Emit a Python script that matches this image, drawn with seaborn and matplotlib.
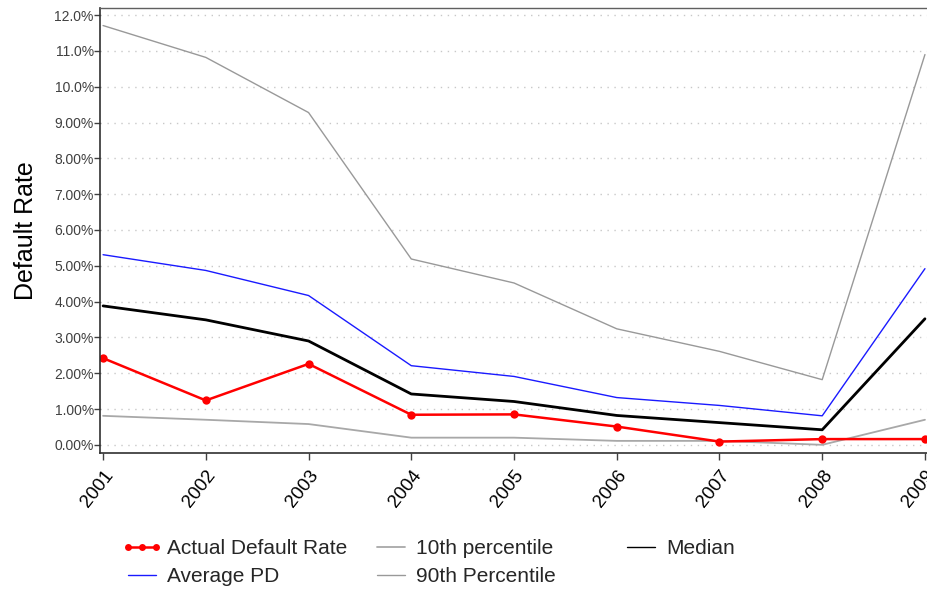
import pandas as pd
import matplotlib.pyplot as plt
import seaborn as sns
from matplotlib.lines import Line2D

years = [2001, 2002, 2003, 2004, 2005, 2006, 2007, 2008, 2009]
actual_default = [2.42, 1.24, 2.26, 0.84, 0.85, 0.51, 0.09, 0.16, 0.16]
average_pd = [5.31, 4.87, 4.17, 2.21, 1.91, 1.32, 1.10, 0.81, 4.92]
median_pd = [3.88, 3.49, 2.90, 1.42, 1.21, 0.82, 0.62, 0.42, 3.52]
p10 = [0.81, 0.70, 0.58, 0.20, 0.20, 0.11, 0.11, 0.00, 0.70]
p90 = [11.71, 10.82, 9.28, 5.19, 4.52, 3.24, 2.61, 1.82, 10.90]

y_ticks = list(range(0, 13))
y_tick_labels = ['0.00%', '1.00%', '2.00%', '3.00%', '4.00%', '5.00%', '6.00%',
                 '7.00%', '8.00%', '9.00%', '10.0%', '11.0%', '12.0%']

df = pd.DataFrame({'Year': years, 'Actual': actual_default, 'AvgPD': average_pd,
                   'Median': median_pd, 'P10': p10, 'P90': p90})

sns.set_theme(style="white")
plt.rcParams['font.family'] = ['Liberation Sans', 'DejaVu Sans']

fig = plt.figure(figsize=(9.27, 5.94), dpi=100)
ax = fig.add_axes([100 / 927, 1 - 452.7 / 594, 827 / 927, (452.7 - 8) / 594])

# percentile lines in grey, then the means/medians on top
sns.lineplot(data=df, x='Year', y='P90', color='#999999', linewidth=1.0, ax=ax)
sns.lineplot(data=df, x='Year', y='P10', color='#a8a8a8', linewidth=1.3, ax=ax)
sns.lineplot(data=df, x='Year', y='AvgPD', color='#1a1aff', linewidth=1.0, ax=ax)
sns.lineplot(data=df, x='Year', y='Median', color='black', linewidth=2.0, ax=ax)
sns.lineplot(data=df, x='Year', y='Actual', color='#ff0000', linewidth=1.8,
             marker='o', markersize=6, markeredgewidth=0, ax=ax)

ax.set_xlim(2000.97, 2009.02)
ax.set_ylim(-0.22, 12.2)
ax.set_yticks(y_ticks)
ax.set_yticklabels(y_tick_labels, fontsize=10, color='#404040')
ax.set_xticks(years)
ax.set_xticklabels([str(y) for y in years], rotation=52, ha='right',
                   rotation_mode='anchor', fontsize=13.5, color='black')
ax.tick_params(axis='y', which='both', direction='out', length=4, width=1,
               color='#404040', left=True, pad=0.5)
ax.tick_params(axis='x', which='both', direction='out', length=5, width=1,
               color='#404040', bottom=True, pad=5)
ax.set_xlabel('')
ax.set_ylabel('Default Rate', fontsize=18, color='black', labelpad=12)

for y in y_ticks:
    ax.axhline(y, color='#c8c8c8', linestyle=(0, (1, 4)), linewidth=1.0, zorder=0)

for side in ['left', 'bottom']:
    ax.spines[side].set_color('#303030')
    ax.spines[side].set_linewidth(1.2)
ax.spines['top'].set_color('#606060')
ax.spines['top'].set_linewidth(1.0)
ax.spines['right'].set_visible(False)

h_actual = Line2D([], [], color='#ff0000', linewidth=1.8, marker='o', markersize=5, markeredgewidth=0)
h_avg = Line2D([], [], color='#1a1aff', linewidth=1.0)
h_p10 = Line2D([], [], color='#a8a8a8', linewidth=1.3)
h_p90 = Line2D([], [], color='#999999', linewidth=1.0)
h_med = Line2D([], [], color='black', linewidth=1.0)

# three fixed-width legend columns under the plot
legend_cols = [
    ([h_actual, h_avg], ['Actual Default Rate', 'Average PD'], 122),
    ([h_p10, h_p90], ['10th percentile', '90th Percentile'], 371),
    ([h_med], ['Median'], 621),
]
for hs, ls, x0 in legend_cols:
    fig.legend(hs, ls, loc='upper left', bbox_to_anchor=(x0 / 927, 1 - 539 / 594),
               frameon=False, fontsize=15, numpoints=3, handlelength=1.95,
               handletextpad=0.2, labelspacing=0.45, borderpad=0, borderaxespad=0)

fig.savefig('out.png', dpi=100)
